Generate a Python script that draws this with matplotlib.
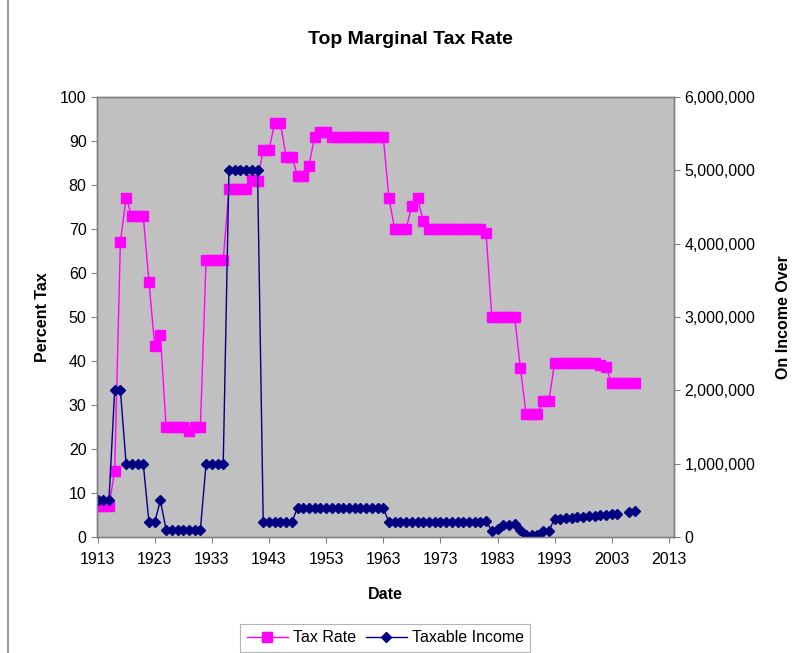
import numpy as np
import matplotlib.pyplot as plt
from matplotlib.lines import Line2D
from matplotlib.ticker import FuncFormatter

plt.rcParams['font.family'] = ['Liberation Sans', 'DejaVu Sans']

years = list(range(1913, 2008))

tax_rate = [
    7, 7, 7, 15, 67, 77, 73, 73, 73, 58,            # 1913-1922
    43.5, 46, 25, 25, 25, 25, 24, 25, 25, 63,       # 1923-1932
    63, 63, 63, 79, 79, 79, 79, 81.1, 81, 88,       # 1933-1942
    88, 94, 94, 86.45, 86.45, 82.13, 82.13, 84.36, 91, 92,  # 1943-1952
    92, 91, 91, 91, 91, 91, 91, 91, 91, 91,         # 1953-1962
    91, 77, 70, 70, 70, 75.25, 77, 71.75, 70, 70,   # 1963-1972
    70, 70, 70, 70, 70, 70, 70, 70, 69.13, 50,      # 1973-1982
    50, 50, 50, 50, 38.5, 28, 28, 28, 31, 31,       # 1983-1992
    39.6, 39.6, 39.6, 39.6, 39.6, 39.6, 39.6, 39.6, 39.1, 38.6,  # 1993-2002
    35, 35, 35, 35, 35,                             # 2003-2007
]

taxable_income = [
    500000, 500000, 500000, 2000000, 2000000, 1000000, 1000000, 1000000, 1000000, 200000,
    200000, 500000, 100000, 100000, 100000, 100000, 100000, 100000, 100000, 1000000,
    1000000, 1000000, 1000000, 5000000, 5000000, 5000000, 5000000, 5000000, 5000000, 200000,
    200000, 200000, 200000, 200000, 200000, 400000, 400000, 400000, 400000, 400000,
    400000, 400000, 400000, 400000, 400000, 400000, 400000, 400000, 400000, 400000,
    400000, 200000, 200000, 200000, 200000, 200000, 200000, 200000, 200000, 200000,
    200000, 200000, 200000, 200000, 200000, 200000, 200000, 200000, 215400, 85600,
    109400, 162400, 169020, 175250, 90000, 29750, 30950, 32450, 82150, 86500,
    250000, 250000, 256500, 263750, 271050, 278450, 283150, 288350, 297350, 307050,
    311950, 319100, np.nan, 336550, 349700,
]

x_ticks = list(range(1913, 2014, 10))

fig = plt.figure(figsize=(8.06, 6.53), dpi=100)
ax = fig.add_axes([0.1203, 0.1776, 0.716, 0.674])
ax2 = ax.twinx()

# grey plot area from ax, income series drawn on top from ax2
ax.set_facecolor('#C0C0C0')
ax.set_zorder(0)
ax2.set_zorder(1)
ax2.patch.set_visible(False)

l1, = ax.plot(years, tax_rate, '-', color='#FF00FF', lw=1.0, marker='s',
              markersize=6.5, markerfacecolor='#FF00FF', markeredgecolor='#FF00FF')
l2, = ax2.plot(years, taxable_income, '-', color='#000080', lw=1.0, marker='D',
               markersize=5, markerfacecolor='#000080', markeredgecolor='#000080')

ax.set_xlim(1912.9, 2013.9)
ax.set_ylim(0, 100)
ax2.set_ylim(0, 6000000)
ax.set_xticks(x_ticks)
ax.set_yticks(range(0, 101, 10))
ax2.set_yticks(range(0, 6000001, 1000000))
ax2.yaxis.set_major_formatter(FuncFormatter(lambda v, p: f"{int(v):,}"))

for a in (ax, ax2):
    for s in a.spines.values():
        s.set_color('#808080')
        s.set_linewidth(1.0)
    a.tick_params(colors='#808080', labelcolor='black', labelsize=11.5,
                  length=4, width=0.8)
ax.tick_params(axis='x', pad=7)

ax.set_xlabel('Date', fontsize=11.5, fontweight='bold', labelpad=14)
ax.set_ylabel('Percent Tax', fontsize=11.5, fontweight='bold', labelpad=7)
ax2.set_ylabel('On Income Over', fontsize=11.5, fontweight='bold', labelpad=15)
ax.set_title('Top Marginal Tax Rate', fontsize=14, fontweight='bold', pad=38,
             x=0.543)

leg = fig.legend([l1, l2], ['Tax Rate', 'Taxable Income'], loc='upper center',
                 bbox_to_anchor=(0.478, 0.0444), ncol=2, frameon=True,
                 fancybox=False, edgecolor='#A0A0A0', fontsize=11.5,
                 handlelength=2.6, columnspacing=0.6, handletextpad=0.3,
                 borderaxespad=0)
leg.get_frame().set_linewidth(0.8)

fig.add_artist(Line2D([0.0105, 0.0105], [0, 1], transform=fig.transFigure,
                      color='#A0A0A0', lw=1.5))

fig.savefig('out.png', dpi=100)
